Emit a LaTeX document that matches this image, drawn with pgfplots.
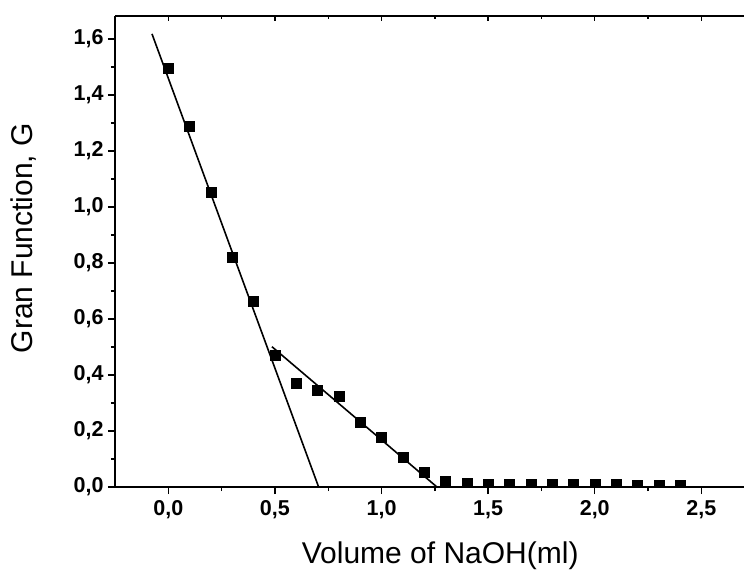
\documentclass[border=0pt]{standalone}
\usepackage{fontspec}
\setmainfont{Liberation Sans}
\usepackage{pgfplots}
\pgfplotsset{compat=1.18}
\begin{document}
\begin{tikzpicture}
\begin{axis}[
  at={(0,0)}, anchor=south west,
  scale only axis, width=629bp, height=471.3bp,
  xmin=-0.25, xmax=2.7, ymin=0, ymax=1.683,
  axis x line*=bottom, axis y line*=left,
  axis line style={line width=1.7bp, -},
  axis on top, clip marker paths=true,
  tick align=outside,
  major tick length=7bp, minor tick length=4bp,
  every tick/.style={black, line width=1.4bp},
  xtick={0,0.5,1,1.5,2,2.5}, ytick={0,0.2,0.4,0.6,0.8,1.0,1.2,1.4,1.6},
  minor x tick num=1, minor y tick num=1,
  /pgf/number format/.cd, fixed, fixed zerofill, precision=1, use comma, assume math mode=true,
  /pgfplots/.cd,
  ticklabel style={font=\fontsize{21.5bp}{24bp}\selectfont\bfseries},
  xticklabel style={yshift=-3bp},
  yticklabel style={xshift=-1bp},
  xlabel={Volume of NaOH(ml)},
  ylabel={Gran Function, G},
  xlabel style={at={(axis description cs:0.517,-0.1613)}, anchor=base, font=\fontsize{30bp}{36bp}\selectfont},
  ylabel style={at={(axis description cs:-0.1304,0.528)}, anchor=base, font=\fontsize{30bp}{36bp}\selectfont},
]
\addplot[only marks, mark=square*, mark size=5bp, black] coordinates {
(0.0,1.495) (0.1,1.287) (0.2,1.052) (0.3,0.822) (0.4,0.665) (0.5,0.469)
(0.6,0.370) (0.7,0.344) (0.8,0.326) (0.9,0.233) (1.0,0.177) (1.1,0.106)
(1.2,0.053) (1.3,0.021) (1.4,0.015) (1.5,0.011) (1.6,0.010) (1.7,0.009)
(1.8,0.009) (1.9,0.009) (2.0,0.009) (2.1,0.009) (2.2,0.008) (2.3,0.008) (2.4,0.008)
};
\addplot[black, line width=1.6bp] coordinates {(-0.0765,1.618) (0.705,0)};
\addplot[black, line width=1.6bp] coordinates {(0.486,0.501) (1.26,0)};
\end{axis}
\begin{axis}[
  at={(0,0)}, anchor=south west,
  scale only axis, width=629bp, height=471.3bp,
  xmin=-0.25, xmax=2.7, ymin=0, ymax=1.683,
  axis x line*=top, axis y line=none,
  axis line style={line width=1.7bp, -},
  tick align=inside,
  major tick length=5bp, minor tick length=3bp,
  every tick/.style={black, line width=1.4bp},
  xtick={0,0.5,1,1.5,2,2.5}, minor x tick num=1,
  xticklabels={},
]
\addplot[draw=none] coordinates {(0,0)};
\end{axis}
\pgfresetboundingbox
\path (-115bp,-84bp) rectangle (629bp,487bp);
\end{tikzpicture}
\end{document}
